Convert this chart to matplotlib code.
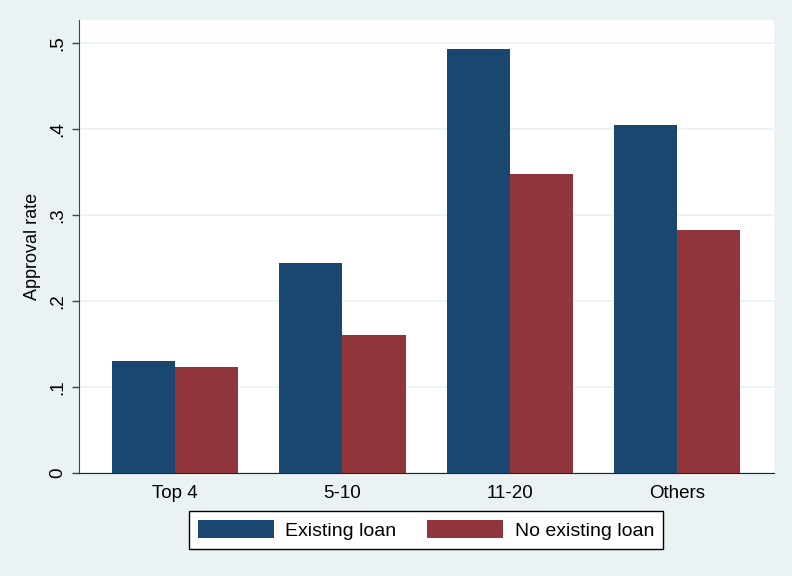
import numpy as np
import matplotlib.pyplot as plt

plt.rcParams['font.family'] = ['Liberation Sans', 'DejaVu Sans']

groups = ['Top 4', '5-10', '11-20', 'Others']
existing = [0.130, 0.244, 0.493, 0.404]
no_existing = [0.123, 0.160, 0.348, 0.283]

bg = '#eaf2f3'
blue = '#1a476f'
red = '#90353b'

fig = plt.figure(figsize=(7.92, 5.76), dpi=100, facecolor=bg)
ax = fig.add_axes([79 / 792, 1 - 473 / 576, 695 / 792, 453 / 576])

x = np.arange(len(groups))
w = 0.377
ax.bar(x - w / 2, existing, w, color=blue, label='Existing loan', zorder=3)
ax.bar(x + w / 2, no_existing, w, color=red, label='No existing loan', zorder=3)

ax.set_xlim(-0.575, 3.58)
ax.set_ylim(0, 0.5266)
ax.set_yticks([0, 0.1, 0.2, 0.3, 0.4, 0.5])
ax.set_yticklabels(['0', '.1', '.2', '.3', '.4', '.5'], rotation=90, va='center', fontsize=13.5)
ax.set_xticks(x)
ax.set_xticklabels(groups, fontsize=13.5)
ax.tick_params(axis='x', length=0, pad=9)
ax.tick_params(axis='y', length=5, width=1, color='#444444', pad=4)
ax.set_ylabel('Approval rate', fontsize=13, labelpad=6)
ax.grid(axis='y', color=bg, linewidth=1.2, zorder=0)
for s in ['top', 'right']:
    ax.spines[s].set_visible(False)
ax.spines['left'].set_color('#444444')
ax.spines['bottom'].set_color('#222222')

leg = fig.legend(loc='center', bbox_to_anchor=(426 / 792, 1 - 530 / 576), ncol=2,
                 fontsize=14, frameon=True, fancybox=False, edgecolor='black',
                 framealpha=1, handlelength=3.9, handleheight=1.05, handletextpad=0.6,
                 columnspacing=1.6, borderpad=0.45, borderaxespad=0)
leg.get_frame().set_linewidth(1)

fig.savefig('out.png', dpi=100, facecolor=bg)
